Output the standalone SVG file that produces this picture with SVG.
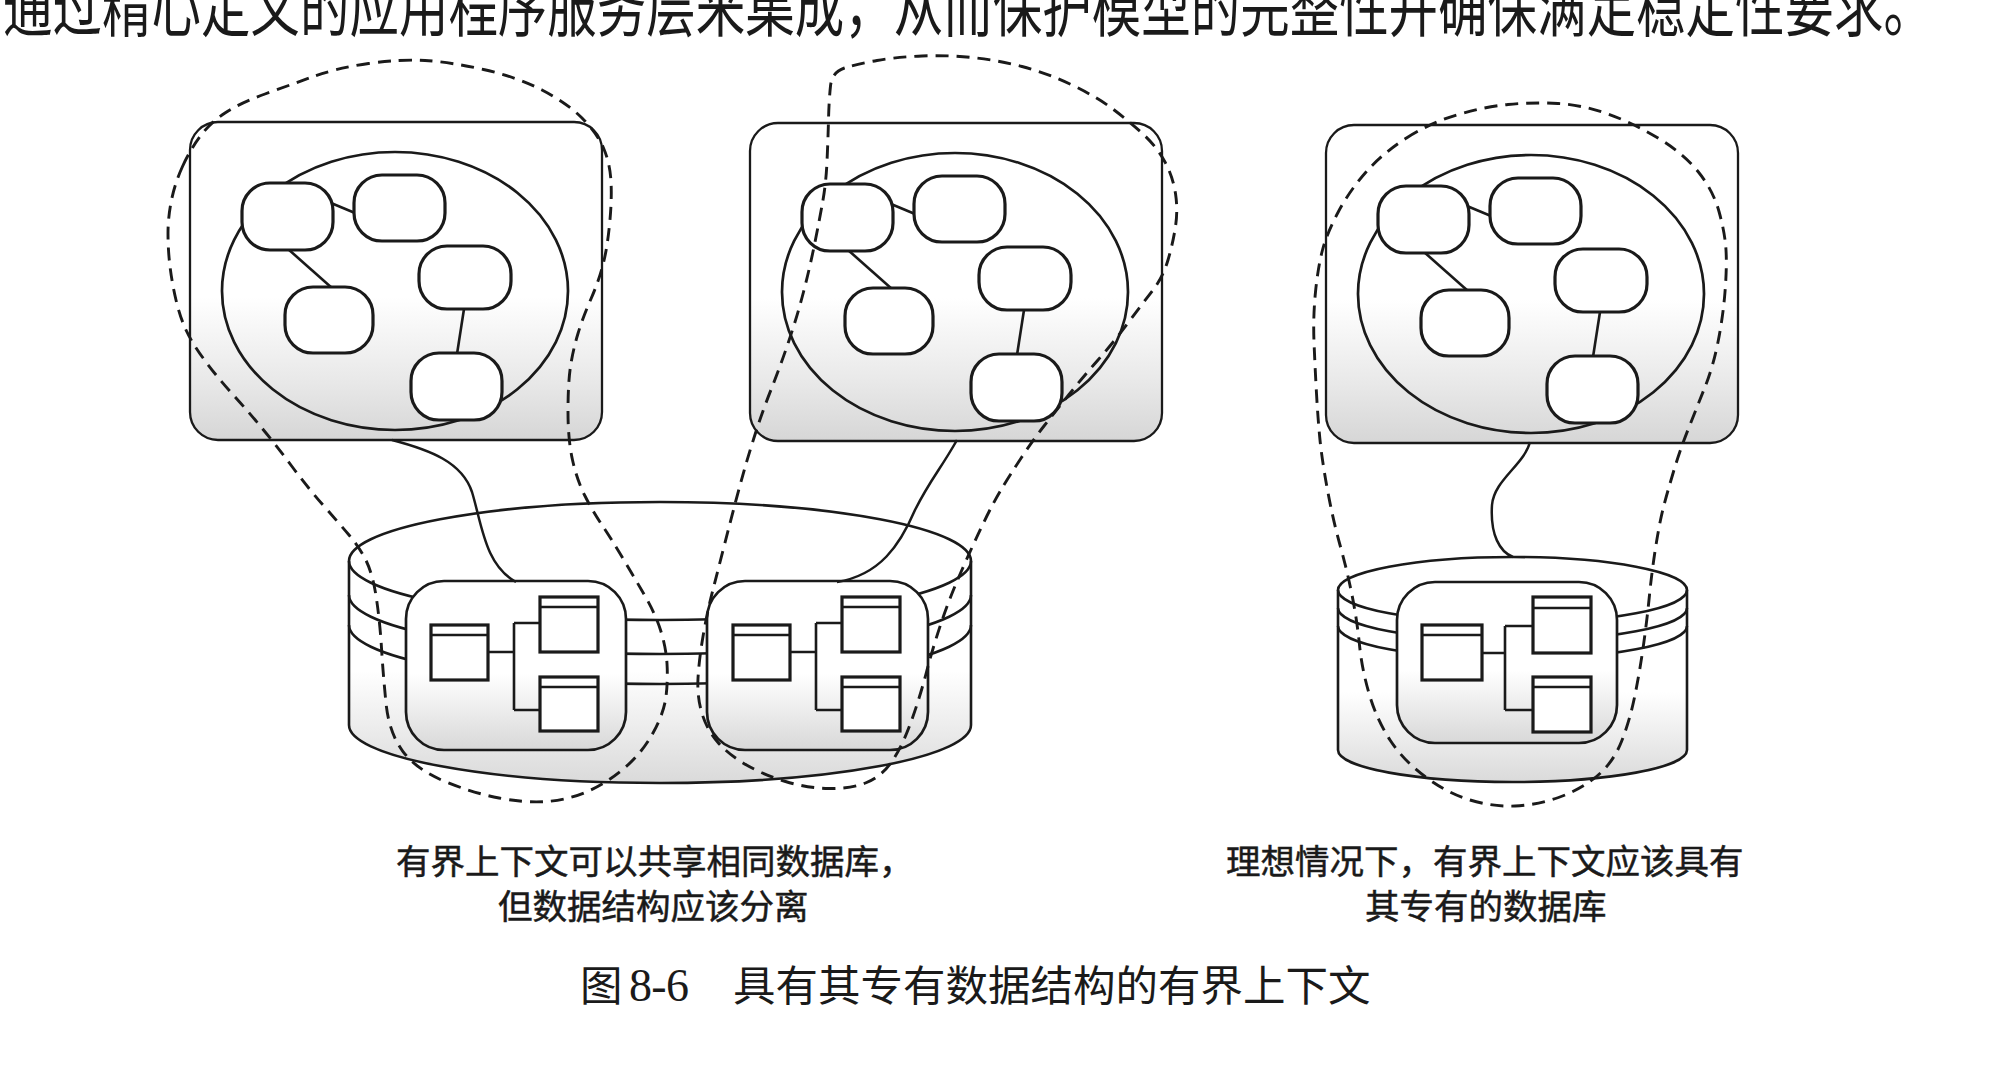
<svg xmlns="http://www.w3.org/2000/svg" width="2014" height="1092" viewBox="0 0 2014 1092">
<defs>
  <linearGradient id="gApp" x1="0" y1="0" x2="0" y2="1">
    <stop offset="0" stop-color="#ffffff"/>
    <stop offset="0.55" stop-color="#ffffff"/>
    <stop offset="0.82" stop-color="#e8e8e8"/>
    <stop offset="1" stop-color="#d6d6d6"/>
  </linearGradient>
  <linearGradient id="gDb" x1="0" y1="0" x2="0" y2="1">
    <stop offset="0" stop-color="#ffffff"/>
    <stop offset="0.6" stop-color="#ffffff"/>
    <stop offset="1" stop-color="#dadada"/>
  </linearGradient>
  <linearGradient id="gBox" x1="0" y1="0" x2="0" y2="1">
    <stop offset="0" stop-color="#ffffff"/>
    <stop offset="0.55" stop-color="#ffffff"/>
    <stop offset="1" stop-color="#d8d8d8"/>
  </linearGradient>
</defs>
<style>
  .frame{fill:url(#gApp);stroke:#1a1a1a;stroke-width:2.3}
  .oval{fill:none;stroke:#1a1a1a;stroke-width:2.7}
  .ent{fill:#ffffff;stroke:#1a1a1a;stroke-width:3.2}
  .ln{fill:none;stroke:#1a1a1a;stroke-width:2.6}
  .body{fill:url(#gDb);stroke:#1a1a1a;stroke-width:2.6}
  .box{fill:url(#gBox);stroke:#1a1a1a;stroke-width:2.7}
  .tbl{fill:#ffffff;stroke:#1a1a1a;stroke-width:3.2}
  .dash{fill:none;stroke:#1a1a1a;stroke-width:2.9;stroke-dasharray:13 8;stroke-linecap:butt}
  .wire{fill:none;stroke:#1a1a1a;stroke-width:2.5}
  .lbl{font-family:"Noto Sans CJK SC","Noto Sans CJK TC",sans-serif;font-size:34.5px;fill:#1a1a1a;stroke:#1a1a1a;stroke-width:0.5}
  .cap{font-family:"Noto Sans CJK SC","Noto Sans CJK TC",sans-serif;font-size:42.5px;fill:#1a1a1a}
  .top{font-family:"Noto Sans CJK SC","Noto Sans CJK TC",sans-serif;font-size:49.5px;fill:#1a1a1a}
</style>
<rect width="2014" height="1092" fill="#ffffff"/>

<text class="top" x="3" y="23" transform="scale(1,1.35)" textLength="1930" lengthAdjust="spacing">通过精心定义的应用程序服务层来集成，从而保护模型的完整性并确保满足稳定性要求。</text>

<!-- application panel 1 -->
<g id="app1">
  <rect class="frame" x="190" y="122" width="412" height="318" rx="28"/>
  <ellipse class="oval" cx="395" cy="291" rx="173" ry="139"/>
  <g class="ln">
    <line x1="331" y1="203" x2="355" y2="213"/>
    <line x1="288" y1="249" x2="332" y2="288"/>
    <line x1="464" y1="309" x2="457" y2="354"/>
  </g>
  <rect id="app1-e1" class="ent" x="242" y="183" width="91" height="67" rx="28"/>
  <rect id="app1-e2" class="ent" x="354" y="175" width="91" height="66" rx="28"/>
  <rect id="app1-e3" class="ent" x="285" y="287" width="88" height="66" rx="28"/>
  <rect id="app1-e4" class="ent" x="419" y="246" width="92" height="63" rx="28"/>
  <rect id="app1-e5" class="ent" x="411" y="353" width="91" height="67" rx="28"/>
</g>

<!-- application panel 2 -->
<g id="app2" transform="translate(560,1)">
  <rect class="frame" x="190" y="122" width="412" height="318" rx="28"/>
  <ellipse class="oval" cx="395" cy="291" rx="173" ry="139"/>
  <g class="ln">
    <line x1="331" y1="203" x2="355" y2="213"/>
    <line x1="288" y1="249" x2="332" y2="288"/>
    <line x1="464" y1="309" x2="457" y2="354"/>
  </g>
  <rect id="app2-e1" class="ent" x="242" y="183" width="91" height="67" rx="28"/>
  <rect id="app2-e2" class="ent" x="354" y="175" width="91" height="66" rx="28"/>
  <rect id="app2-e3" class="ent" x="285" y="287" width="88" height="66" rx="28"/>
  <rect id="app2-e4" class="ent" x="419" y="246" width="92" height="63" rx="28"/>
  <rect id="app2-e5" class="ent" x="411" y="353" width="91" height="67" rx="28"/>
</g>

<!-- application panel 3 -->
<g id="app3" transform="translate(1136,3)">
  <rect class="frame" x="190" y="122" width="412" height="318" rx="28"/>
  <ellipse class="oval" cx="395" cy="291" rx="173" ry="139"/>
  <g class="ln">
    <line x1="331" y1="203" x2="355" y2="213"/>
    <line x1="288" y1="249" x2="332" y2="288"/>
    <line x1="464" y1="309" x2="457" y2="354"/>
  </g>
  <rect id="app3-e1" class="ent" x="242" y="183" width="91" height="67" rx="28"/>
  <rect id="app3-e2" class="ent" x="354" y="175" width="91" height="66" rx="28"/>
  <rect id="app3-e3" class="ent" x="285" y="287" width="88" height="66" rx="28"/>
  <rect id="app3-e4" class="ent" x="419" y="246" width="92" height="63" rx="28"/>
  <rect id="app3-e5" class="ent" x="411" y="353" width="91" height="67" rx="28"/>
</g>

<!-- shared database -->
<g id="db-shared">
  <path class="body" d="M349,561 A311,59 0 0 1 971,561 L971,725 A311,58 0 0 1 349,725 Z"/>
  <path class="ln" d="M349,561 A311,59 0 0 0 971,561"/>
  <path class="ln" d="M349,595 A311,59 0 0 0 971,595"/>
  <path class="ln" d="M349,625 A311,59 0 0 0 971,625"/>
  <g id="schema-a">
    <rect class="box" x="406" y="581" width="220" height="169" rx="38"/>
    <rect class="tbl" x="431" y="625" width="57" height="55"/>
    <line class="ln" x1="431" y1="635" x2="488" y2="635"/>
    <rect class="tbl" x="540" y="597" width="58" height="55"/>
    <line class="ln" x1="540" y1="607" x2="598" y2="607"/>
    <rect class="tbl" x="540" y="677" width="58" height="54"/>
    <line class="ln" x1="540" y1="687" x2="598" y2="687"/>
    <path class="ln" d="M488,652 H514 M514,623 V710 M514,623 H540 M514,710 H540"/>
  </g>
  <g id="schema-b" transform="translate(302,0)">
    <rect class="box" x="405" y="581" width="221" height="169" rx="38"/>
    <rect class="tbl" x="431" y="625" width="57" height="55"/>
    <line class="ln" x1="431" y1="635" x2="488" y2="635"/>
    <rect class="tbl" x="540" y="597" width="58" height="55"/>
    <line class="ln" x1="540" y1="607" x2="598" y2="607"/>
    <rect class="tbl" x="540" y="677" width="58" height="54"/>
    <line class="ln" x1="540" y1="687" x2="598" y2="687"/>
    <path class="ln" d="M488,652 H514 M514,623 V710 M514,623 H540 M514,710 H540"/>
  </g>
</g>

<!-- own database -->
<g id="db-own">
  <path class="body" d="M1338,590 A174.5,33 0 0 1 1687,590 L1687,750 A174.5,32 0 0 1 1338,750 Z"/>
  <path class="ln" d="M1338,590 A174.5,33 0 0 0 1687,590"/>
  <path class="ln" d="M1338,608 A174.5,33 0 0 0 1687,608"/>
  <path class="ln" d="M1338,626 A174.5,33 0 0 0 1687,626"/>
  <g id="schema-c">
    <rect class="box" x="1397" y="582" width="220" height="161" rx="38"/>
    <rect class="tbl" x="1422" y="625" width="60" height="55"/>
    <line class="ln" x1="1422" y1="635" x2="1482" y2="635"/>
    <rect class="tbl" x="1533" y="597" width="58" height="56"/>
    <line class="ln" x1="1533" y1="608" x2="1591" y2="608"/>
    <rect class="tbl" x="1533" y="677" width="58" height="55"/>
    <line class="ln" x1="1533" y1="687" x2="1591" y2="687"/>
    <path class="ln" d="M1482,653 H1505 M1505,626 V710 M1505,626 H1533 M1505,710 H1533"/>
  </g>
</g>

<!-- connectors -->
<g id="connectors">
  <path class="wire" d="M392,440 C430,450 462,462 472,492 C482,525 485,565 516,582"/>
  <path class="wire" d="M957,440 C940,470 930,480 915,510 C900,545 880,575 837,582"/>
  <path class="wire" d="M1530,442 C1524,465 1494,480 1492,505 C1490,535 1500,552 1513,557"/>
</g>

<!-- bounded context boundaries -->
<g id="bc1">
  <path class="dash" d="M182.5,166.5 Q190,150 200,136.5 Q210,123 225,113 Q240,103 265,94 Q290,85 313.5,76.5 Q337,68 368.5,63.5 Q400,59 425,60.5 Q450,62 483.5,69.5 Q517,77 542,90 Q567,103 582,118 Q597,133 603.5,148 Q610,163 611,181.5 Q612,200 609.5,225 Q607,250 602.5,266.5 Q598,283 590.5,300 Q583,317 578,333.5 Q573,350 570.5,366.5 Q568,383 568,411.5 Q568,440 572.5,460 Q577,480 584.5,495 Q592,510 602,525 Q612,540 623,558.5 Q634,577 644.5,595 Q655,613 660.5,630 Q666,647 667,663.5 Q668,680 666,696.5 Q664,713 653,733 Q642,753 624.5,768 Q607,783 587.5,791.5 Q568,800 546.5,801.5 Q525,803 499,798 Q473,793 445,781.5 Q417,770 403,751.5 Q389,733 386,703 Q383,673 381.5,648 Q380,623 376.5,599 Q373,575 366.5,561.5 Q360,548 349,535 Q338,522 323,505 Q308,488 292,466.5 Q276,445 261.5,427.5 Q247,410 232,393.5 Q217,377 204.5,360 Q192,343 186,330 Q180,317 176,300 Q172,283 170,266.5 Q168,250 168,233.5 Q168,217 171.5,200 Q175,183 182.5,166.5 Z"/>
</g>
<g id="bc2">
  <path class="dash" d="M844.5,68 Q832,72 830.5,86 Q829,100 828.5,120 Q828,140 827,161.5 Q826,183 823,200 Q820,217 815,242 Q810,267 803.5,292 Q797,317 788.5,342 Q780,367 771.5,388.5 Q763,410 756.5,430 Q750,450 745,467.5 Q740,485 735,504 Q730,523 724,546.5 Q718,570 712.5,591.5 Q707,613 703,636.5 Q699,660 698,678.5 Q697,697 702,713.5 Q707,730 718,742.5 Q729,755 746.5,765 Q764,775 785.5,781.5 Q807,788 828.5,788.5 Q850,789 865.5,783 Q881,777 891.5,762 Q902,747 911,722 Q920,697 926.5,672 Q933,647 941.5,622 Q950,597 961,572 Q972,547 982.5,525 Q993,503 1001.5,489 Q1010,475 1021.5,457.5 Q1033,440 1044,426 Q1055,412 1069,394.5 Q1083,377 1098,360 Q1113,343 1128,323 Q1143,303 1153,290 Q1163,277 1168,260 Q1173,243 1175.5,226.5 Q1178,210 1175.5,193.5 Q1173,177 1165,162 Q1157,147 1143.5,134.5 Q1130,122 1113.5,109.5 Q1097,97 1072,85 Q1047,73 1022,66.5 Q997,60 972,57.5 Q947,55 922,56 Q897,57 877,60.5 Q857,64 844.5,68 Z"/>
</g>
<g id="bc3">
  <path class="dash" d="M1406.5,138 Q1430,123 1456.5,115 Q1483,107 1508,104.5 Q1533,102 1558,103.5 Q1583,105 1608,114 Q1633,123 1658,138 Q1683,153 1698,171.5 Q1713,190 1719,211.5 Q1725,233 1726,250 Q1727,267 1725,292 Q1723,317 1718,342 Q1713,367 1705,387 Q1697,407 1688.5,428.5 Q1680,450 1674,470 Q1668,490 1664,505 Q1660,520 1656,545 Q1652,570 1649.5,595 Q1647,620 1643.5,645 Q1640,670 1635,695 Q1630,720 1621.5,741.5 Q1613,763 1596.5,776.5 Q1580,790 1558.5,797.5 Q1537,805 1515,806 Q1493,807 1470,800 Q1447,793 1425,776.5 Q1403,760 1390,740 Q1377,720 1369.5,695 Q1362,670 1359.5,645 Q1357,620 1352,595 Q1347,570 1340,545 Q1333,520 1327.5,490 Q1322,460 1320,440 Q1318,420 1316.5,393.5 Q1315,367 1314,342 Q1313,317 1315.5,292 Q1318,267 1322.5,250 Q1327,233 1338.5,211.5 Q1350,190 1366.5,171.5 Q1383,153 1406.5,138 Z"/>
</g>

<!-- labels -->
<g id="labels">
  <text class="lbl" x="396" y="874">有界上下文可以共享相同数据库，</text>
  <text class="lbl" x="498" y="919">但数据结构应该分离</text>
  <text class="lbl" x="1226" y="874">理想情况下，有界上下文应该具有</text>
  <text class="lbl" x="1365" y="919">其专有的数据库</text>
  <text class="cap" y="1001"><tspan x="580">图</tspan><tspan x="629" font-family="'Liberation Serif',serif" font-size="46" textLength="60">8-6</tspan><tspan x="733">具有其专有数据结构的有界上下文</tspan></text>
</g>
</svg>
